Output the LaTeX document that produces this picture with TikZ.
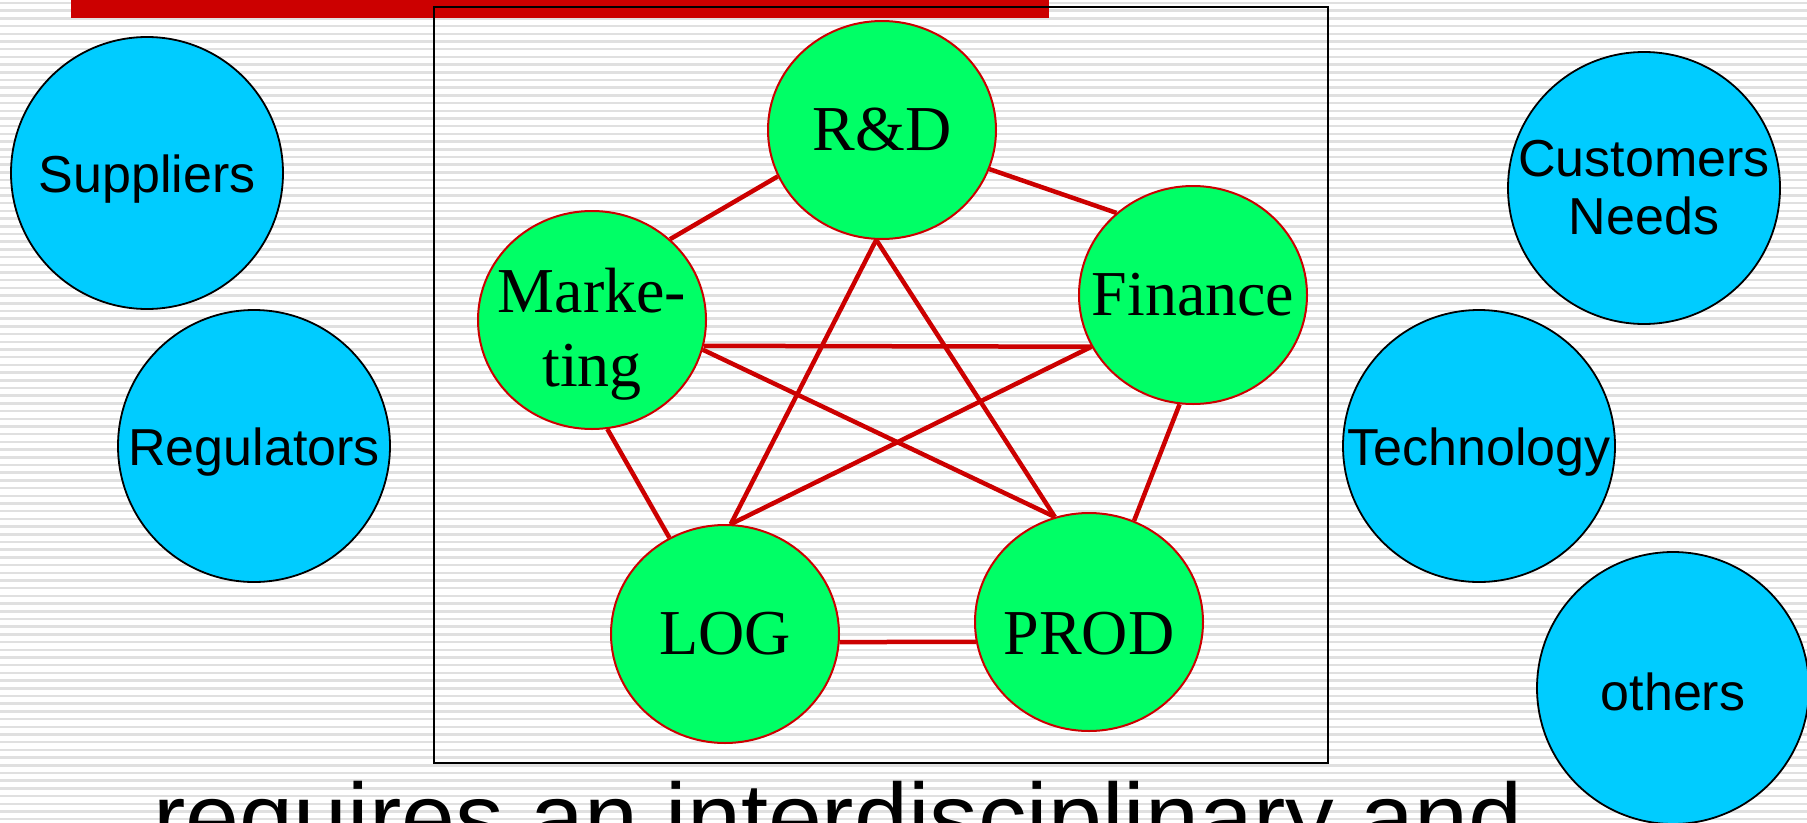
\documentclass[tikz,border=0pt]{standalone}
\usepackage{fontspec}
\setmainfont{Liberation Serif}
\newfontfamily\arialfont{Liberation Sans}
\usetikzlibrary{shapes.geometric}

\definecolor{barred}{HTML}{CC0000}
\definecolor{deptgreen}{HTML}{00FF66}
\definecolor{outcyan}{HTML}{00CCFF}

\begin{document}
\begin{tikzpicture}[x=1pt,y=-1pt,
    dept/.style={ellipse,draw=barred,line width=2pt,fill=deptgreen,
      inner sep=-40pt,minimum width=228pt,minimum height=218pt,
      align=center,font=\fontsize{64}{74}\selectfont},
    outside/.style={circle,draw=black,line width=1.8pt,fill=outcyan,
      inner sep=-20pt,minimum size=272pt,align=center,
      font=\arialfont\fontsize{52}{58}\selectfont},
    link/.style={draw=barred,line width=4.5pt},
    every edge/.style={link},
    stripe/.style={draw=black!12,line width=2.5pt}]
  \useasboundingbox (0,0) rectangle (1807,822);
  \clip (0,0) rectangle (1807,822);
  % striped slide background
  \fill[white] (0,0) rectangle (1807,822);
  \foreach \y in {3,10.7,...,822}
    \draw[stripe] (0,\y) -- (1807,\y);
  \fill[barred] (71,0) rectangle (1049,18);
  \draw[line width=1.5pt] (434,7) rectangle (1328,763);

  % departments
  \node[dept] (rd) at (882,130) {R\&D};
  \node[dept] (mkt) at (592,320) {\rule{0pt}{72pt}Marke-\\ting};
  \node[dept] (fin) at (1193,295) {Finance};
  \node[dept] (log) at (725,634) {LOG};
  \node[dept] (prod) at (1089,622) {\rule{0pt}{66pt}PROD};

  \path (mkt.46) edge (rd.204)
  (rd.340) edge (fin.133)
  (mkt.-13) edge (fin.207)
  (mkt.-15) edge (prod.108)
  (fin.207) edge (log.87)
  (rd.267) edge (log.87)
  (rd.267) edge (prod.108)
  (mkt.278) edge (log.120)
  (fin.263) edge (prod.66)
  (log.-4) edge (prod.190)
  ;

  % outside players
  \node[outside] (supp) at (147,173) {\rule{0pt}{50pt}Suppliers};
  \node[outside] (reg) at (254,446) {\rule{0pt}{50pt}Regulators};
  \node[outside] (cust) at (1644,188) {Customers\\Needs};
  \node[outside] (tech) at (1479,446) {\rule{0pt}{50pt}Technology};
  \node[outside] (oth) at (1673,688) {\rule{0pt}{46pt}others};

  \node[anchor=base west,font=\arialfont\fontsize{97}{110}\selectfont]
    (claim) at (150,851) {requires an interdisciplinary and};
\end{tikzpicture}
\end{document}
